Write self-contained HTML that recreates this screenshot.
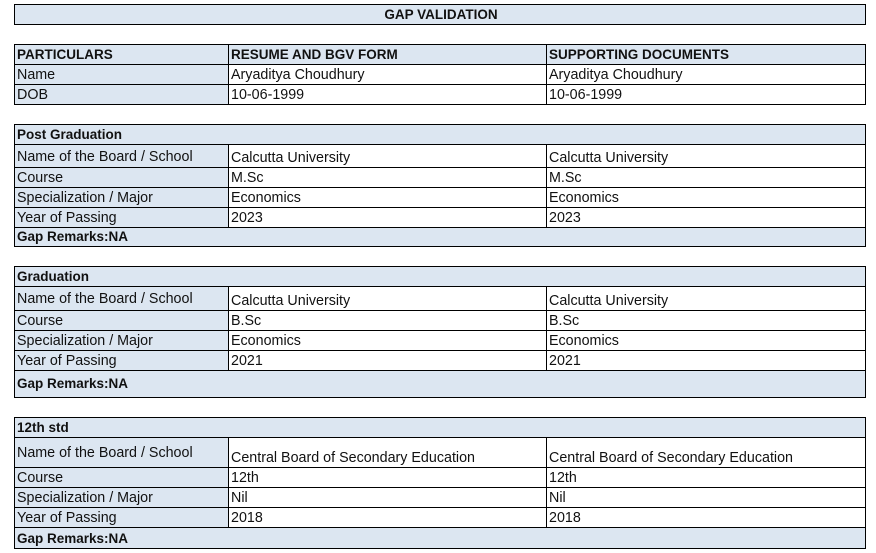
<!DOCTYPE html>
<html><head><meta charset="utf-8"><style>
body{margin:0;width:876px;height:553px;background:#fff;position:relative;overflow:hidden;font-family:"Liberation Sans",sans-serif;font-size:14.3px;color:#111}
.c{position:absolute;box-sizing:border-box;border:1px solid #000;padding:0 0 0 2px;display:flex;align-items:flex-end;white-space:nowrap;line-height:16px;padding-bottom:1px}
.b{background:#dce6f1}.w{background:#fff}.bold{font-weight:bold;font-size:13.5px}
.A{left:14px;width:215px}.B{left:228px;width:319px}.C{left:546px;width:320px}.F{left:14px;width:852px}
</style></head><body>
<div class="c b F bold" style="top:4px;height:21px;justify-content:center">GAP VALIDATION</div>

<div class="c b A bold" style="top:44px;height:21px">PARTICULARS</div>
<div class="c b B bold" style="top:44px;height:21px">RESUME AND BGV FORM</div>
<div class="c b C bold" style="top:44px;height:21px">SUPPORTING DOCUMENTS</div>
<div class="c b A" style="top:64px;height:21px">Name</div>
<div class="c w B" style="top:64px;height:21px">Aryaditya Choudhury</div>
<div class="c w C" style="top:64px;height:21px">Aryaditya Choudhury</div>
<div class="c b A" style="top:84px;height:21px">DOB</div>
<div class="c w B" style="top:84px;height:21px">10-06-1999</div>
<div class="c w C" style="top:84px;height:21px">10-06-1999</div>

<div class="c b F bold" style="top:124px;height:21px">Post Graduation</div>
<div class="c b A" style="top:144px;height:24px;padding-bottom:2px">Name of the Board / School</div>
<div class="c w B" style="top:144px;height:24px">Calcutta University</div>
<div class="c w C" style="top:144px;height:24px">Calcutta University</div>
<div class="c b A" style="top:167px;height:21px">Course</div>
<div class="c w B" style="top:167px;height:21px">M.Sc</div>
<div class="c w C" style="top:167px;height:21px">M.Sc</div>
<div class="c b A" style="top:187px;height:21px">Specialization / Major</div>
<div class="c w B" style="top:187px;height:21px">Economics</div>
<div class="c w C" style="top:187px;height:21px">Economics</div>
<div class="c b A" style="top:207px;height:21px">Year of Passing</div>
<div class="c w B" style="top:207px;height:21px">2023</div>
<div class="c w C" style="top:207px;height:21px">2023</div>
<div class="c b F bold" style="top:227px;height:20px">Gap Remarks:NA</div>

<div class="c b F bold" style="top:266px;height:21px">Graduation</div>
<div class="c b A" style="top:286px;height:25px;padding-bottom:3px">Name of the Board / School</div>
<div class="c w B" style="top:286px;height:25px">Calcutta University</div>
<div class="c w C" style="top:286px;height:25px">Calcutta University</div>
<div class="c b A" style="top:310px;height:21px">Course</div>
<div class="c w B" style="top:310px;height:21px">B.Sc</div>
<div class="c w C" style="top:310px;height:21px">B.Sc</div>
<div class="c b A" style="top:330px;height:21px">Specialization / Major</div>
<div class="c w B" style="top:330px;height:21px">Economics</div>
<div class="c w C" style="top:330px;height:21px">Economics</div>
<div class="c b A" style="top:350px;height:21px">Year of Passing</div>
<div class="c w B" style="top:350px;height:21px">2021</div>
<div class="c w C" style="top:350px;height:21px">2021</div>
<div class="c b F bold" style="top:370px;height:28px;padding-bottom:5px">Gap Remarks:NA</div>

<div class="c b F bold" style="top:417px;height:21px">12th std</div>
<div class="c b A" style="top:437px;height:31px;padding-bottom:6px">Name of the Board / School</div>
<div class="c w B" style="top:437px;height:31px">Central Board of Secondary Education</div>
<div class="c w C" style="top:437px;height:31px">Central Board of Secondary Education</div>
<div class="c b A" style="top:467px;height:21px">Course</div>
<div class="c w B" style="top:467px;height:21px">12th</div>
<div class="c w C" style="top:467px;height:21px">12th</div>
<div class="c b A" style="top:487px;height:21px">Specialization / Major</div>
<div class="c w B" style="top:487px;height:21px">Nil</div>
<div class="c w C" style="top:487px;height:21px">Nil</div>
<div class="c b A" style="top:507px;height:21px">Year of Passing</div>
<div class="c w B" style="top:507px;height:21px">2018</div>
<div class="c w C" style="top:507px;height:21px">2018</div>
<div class="c b F bold" style="top:527px;height:22px">Gap Remarks:NA</div>
</body></html>
